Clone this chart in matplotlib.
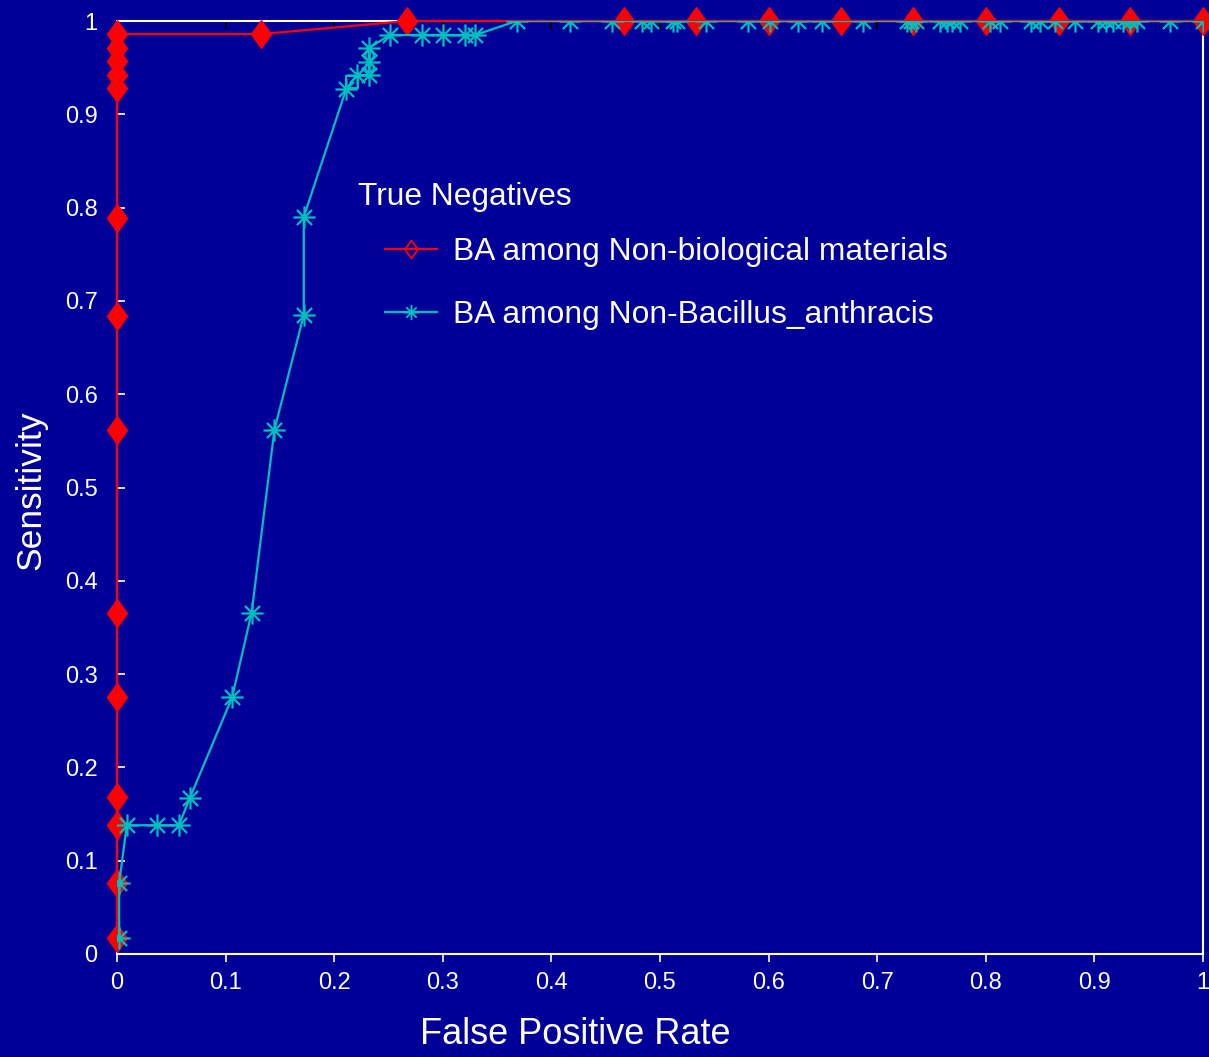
import matplotlib
matplotlib.use("Agg")
import matplotlib.pyplot as plt
from matplotlib.path import Path
from matplotlib.lines import Line2D

plt.rcParams['font.family'] = ['Liberation Sans', 'DejaVu Sans']

# ROC data: BA among non-biological materials
red_fpr = [0, 0, 0, 0, 0, 0, 0, 0, 0, 0, 0, 0, 0, 0,
           0.133, 0.267, 0.467, 0.533, 0.600, 0.667, 0.733, 0.800, 0.867, 0.933, 1.000]
red_sens = [0.017, 0.076, 0.138, 0.168, 0.275, 0.365, 0.562, 0.684, 0.789, 0.928,
            0.942, 0.957, 0.971, 0.986, 0.986, 1, 1, 1, 1, 1, 1, 1, 1, 1, 1]

# ROC data: BA among non-Bacillus anthracis
cyan_fpr = [0.002, 0.002, 0.009, 0.037, 0.057, 0.067, 0.106, 0.124, 0.145, 0.172,
            0.172, 0.211, 0.221, 0.232, 0.232, 0.232, 0.251, 0.281, 0.300, 0.320,
            0.330, 0.368, 0.417, 0.456, 0.483, 0.492, 0.512, 0.516, 0.542, 0.581,
            0.601, 0.627, 0.649, 0.687, 0.727, 0.731, 0.736, 0.758, 0.764, 0.769,
            0.776, 0.804, 0.813, 0.842, 0.850, 0.864, 0.882, 0.903, 0.911, 0.917,
            0.926, 0.933, 0.939, 0.970, 1.000]
cyan_sens = [0.017, 0.076, 0.138, 0.138, 0.138, 0.167, 0.275, 0.366, 0.562, 0.685,
             0.790, 0.927, 0.942, 0.942, 0.956, 0.971, 0.985, 0.985, 0.985, 0.985,
             0.985] + [1.0] * 34

# extra points of a partly hidden curve
circ_fpr = [0.232, 0.232]
circ_sens = [0.951, 0.964]
sq_fpr = [0.216]
sq_sens = [0.935]

x_ticks = [0, 0.1, 0.2, 0.3, 0.4, 0.5, 0.6, 0.7, 0.8, 0.9, 1]
tick_labels = ['0', '0.1', '0.2', '0.3', '0.4', '0.5', '0.6', '0.7', '0.8', '0.9', '1']

legend_title = "True Negatives"
labels = ["BA among Non-biological materials", "BA among Non-Bacillus_anthracis"]

BG = '#000099'
RED = '#FF0000'
CYAN = '#00BFBF'

# MATLAB-like asterisk: a plus with a shorter cross
ast = Path([(-1, 0), (1, 0), (0, -1), (0, 1),
            (-0.68, -0.68), (0.68, 0.68), (-0.68, 0.68), (0.68, -0.68)],
           [Path.MOVETO, Path.LINETO] * 4)
# narrow diamond
dia = Path([(0, 1), (0.72, 0), (0, -1), (-0.72, 0), (0, 1)],
           [Path.MOVETO, Path.LINETO, Path.LINETO, Path.LINETO, Path.CLOSEPOLY])

fig = plt.figure(figsize=(12.09, 10.57), dpi=100, facecolor=BG)
ax = fig.add_axes([117 / 1209, 1 - 954 / 1057, (1203 - 117) / 1209, (954 - 21) / 1057])
ax.set_facecolor(BG)

ax.plot(red_fpr, red_sens, color=RED, lw=1.6, marker=dia, markersize=20,
        markerfacecolor=RED, markeredgecolor=RED, clip_on=False, zorder=3)
ax.plot(sq_fpr, sq_sens, linestyle='none', marker='s', markersize=8.5,
        markerfacecolor='none', markeredgecolor=CYAN, mew=1.4, zorder=4)
ax.plot(circ_fpr, circ_sens, linestyle='none', marker='o', markersize=6,
        markerfacecolor='none', markeredgecolor=CYAN, mew=1.4, zorder=4)
ax.plot(cyan_fpr, cyan_sens, color=CYAN, lw=1.6, marker=ast, markersize=16,
        markerfacecolor='none', markeredgecolor=CYAN, mew=1.6, zorder=5)

ax.set_xlim(0, 1)
ax.set_ylim(0, 1)
ax.set_xticks(x_ticks)
ax.set_xticklabels(tick_labels)
ax.set_yticks(x_ticks)
ax.set_yticklabels(tick_labels)

for s in ax.spines.values():
    s.set_color('white')
    s.set_linewidth(1.5)

ax.tick_params(axis='x', direction='out', length=6, width=1.2, color='white',
               labelcolor='white', labelsize=17, pad=7)
ax.tick_params(axis='y', direction='in', length=6, width=1.2, color='white',
               labelcolor='white', labelsize=17, pad=14)

top = ax.secondary_xaxis('top')
top.set_xticks(x_ticks)
top.tick_params(direction='in', length=6, width=1.5, color='black', labeltop=False)
top.spines['top'].set_visible(False)

ax.set_xlabel("False Positive Rate", color='white', fontsize=26)
ax.xaxis.label.set_va('center')
ax.xaxis.set_label_coords((575 - 117) / 1086, (954 - 1034) / 933)
ax.set_ylabel("Sensitivity", color='white', fontsize=25.5)
ax.yaxis.label.set_va('center')
ax.yaxis.set_label_coords((31 - 117) / 1086, (954 - 490) / 933)

fig.text(358 / 1209, 1 - 197 / 1057, legend_title, color='white', fontsize=22.8,
         ha='left', va='center')

handles = [
    Line2D([], [], color=RED, lw=1.6, marker=dia, markersize=13,
           markerfacecolor='none', markeredgecolor=RED, mew=1.3),
    Line2D([], [], color=CYAN, lw=1.6, marker=ast, markersize=11,
           markerfacecolor='none', markeredgecolor=CYAN, mew=1.3),
]
leg = fig.legend(handles, labels, loc='upper left',
                 bbox_to_anchor=(385 / 1209, 1 - 237 / 1057),
                 frameon=False, fontsize=22.9, handlelength=1.65, handletextpad=0.5,
                 labelspacing=1.03, borderpad=0, borderaxespad=0)
for t in leg.get_texts():
    t.set_color('white')

fig.savefig("out.png", dpi=100, facecolor=BG)
